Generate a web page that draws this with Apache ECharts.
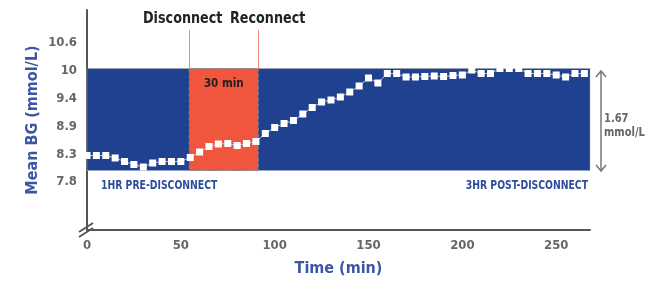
<!DOCTYPE html>
<html>
<head>
<meta charset="utf-8">
<script src="https://cdn.jsdelivr.net/npm/echarts@6/dist/echarts.min.js"></script>
<style>
  html, body { margin: 0; padding: 0; background: #fff; }
  #chart { width: 651px; height: 282px; }
</style>
</head>
<body>
<div id="chart"></div>
<script>
// time after start (min), 5-min samples
const times = [0, 5, 10, 15, 20, 25, 30, 35, 40, 45, 50, 55, 60, 65, 70, 75, 80, 85,
  90, 95, 100, 105, 110, 115, 120, 125, 130, 135, 140, 145, 150, 155, 160, 165, 170,
  175, 180, 185, 190, 195, 200, 205, 210, 215, 220, 225, 230, 235, 240, 245, 250,
  255, 260, 265];
// mean BG, mmol/L
const meanBG = [8.31, 8.31, 8.31, 8.26, 8.19, 8.13, 8.08, 8.16, 8.19, 8.19, 8.19, 8.27,
  8.38, 8.49, 8.54, 8.55, 8.51, 8.55, 8.59, 8.75, 8.87, 8.95, 9.01, 9.14, 9.27, 9.38,
  9.42, 9.48, 9.58, 9.70, 9.86, 9.76, 9.95, 9.95, 9.88, 9.88, 9.89, 9.90, 9.89, 9.91,
  9.92, 10.02, 9.95, 9.95, 10.05, 10.05, 10.05, 9.95, 9.95, 9.95, 9.92, 9.88, 9.95, 9.95];

const yTickValues = [7.78, 8.33, 8.89, 9.44, 10.0, 10.56];
const yTickLabels = ['7.8', '8.3', '8.9', '9.4', '10', '10.6'];
const xTickValues = [0, 50, 100, 150, 200, 250];

const bandRange = [8.01, 10.05];      // target band shown behind the curve
const disconnectAt = 54.5;
const reconnectAt = 91.2;
const markerTop = 10.82;

const FONT = "'Liberation Sans Narrow', 'DejaVu Sans Condensed', sans-serif";
const BLUE = '#1f4190';
const RED = '#f0553e';
const GREY = '#666666';
const NARROW = 0.86;

const chart = echarts.init(document.getElementById('chart'));

const pairs = times.map((t, i) => [t, meanBG[i]]);

const option = {
  backgroundColor: '#ffffff',
  animation: false,
  grid: { left: 87, right: 61, top: 10, bottom: 50 },
  xAxis: {
    type: 'value',
    min: 0,
    max: 268,
    name: 'Time (min)',
    nameLocation: 'middle',
    nameGap: 31,
    nameTextStyle: { color: '#3c56a5', fontSize: 16, fontWeight: 'bold', fontFamily: FONT },
    axisLine: { lineStyle: { color: '#555', width: 2 } },
    axisTick: { show: false },
    splitLine: { show: false },
    axisLabel: {
      customValues: xTickValues,
      color: GREY, fontSize: 13, fontWeight: 'bold', fontFamily: FONT, margin: 9
    }
  },
  yAxis: {
    type: 'value',
    min: 6.82,
    max: 11.22,
    name: 'Mean BG (mmol/L)',
    nameLocation: 'middle',
    nameRotate: 90,
    nameGap: 46,
    nameMoveOverlap: false,
    nameTextStyle: { color: '#3c56a5', fontSize: 16, fontWeight: 'bold', fontFamily: FONT },
    axisLine: { show: true, lineStyle: { color: '#555', width: 2 } },
    axisTick: { show: false },
    splitLine: { show: false },
    axisLabel: {
      customValues: yTickValues,
      formatter: v => {
        const i = yTickValues.findIndex(t => Math.abs(t - v) < 0.01);
        return i >= 0 ? yTickLabels[i] : '';
      },
      color: GREY, fontSize: 13, fontWeight: 'bold', fontFamily: FONT, margin: 10
    }
  },
  series: [
    {
      type: 'line',
      z: 1,
      data: [],
      markArea: {
        silent: true,
        data: [
          [
            { xAxis: 0, yAxis: bandRange[0], itemStyle: { color: BLUE, borderColor: '#9aa3b8', borderWidth: 1, borderType: 'dotted' } },
            { xAxis: 268, yAxis: bandRange[1] }
          ],
          [
            {
              xAxis: disconnectAt, yAxis: bandRange[0],
              itemStyle: { color: RED, borderColor: '#888', borderWidth: 1, borderType: 'dashed' },
              label: {
                show: true, position: 'insideTop', distance: 10, formatter: '30 min',
                color: '#222', fontSize: 11.5, fontWeight: 'bold', fontFamily: FONT
              }
            },
            { xAxis: reconnectAt, yAxis: bandRange[1] }
          ]
        ]
      },
      markLine: {
        silent: true,
        symbol: 'none',
        label: { show: false },
        lineStyle: { color: '#f08a7a', width: 1, type: 'solid' },
        data: [
          [{ coord: [disconnectAt, bandRange[1]] }, { coord: [disconnectAt, markerTop] }],
          [{ coord: [reconnectAt, bandRange[1]] }, { coord: [reconnectAt, markerTop] }]
        ]
      }
    },
    {
      type: 'line',
      z: 5,
      data: pairs,
      symbol: 'rect',
      symbolSize: 7,
      showAllSymbol: true,
      lineStyle: { color: '#b9c4e2', width: 1 },
      itemStyle: { color: '#ffffff', borderWidth: 0 }
    }
  ],
  graphic: [
    {
      type: 'text', x: 143, y: 10, scaleX: 0.86,
      style: { text: 'Disconnect', fill: '#222', font: `bold 16.5px ${FONT}` }
    },
    {
      type: 'text', x: 230, y: 10, scaleX: 0.86,
      style: { text: 'Reconnect', fill: '#222', font: `bold 16.5px ${FONT}` }
    },
    {
      type: 'text', x: 101, y: 180, scaleX: NARROW,
      style: { text: '1HR PRE-DISCONNECT', fill: '#2d4c9c', font: `bold 12px ${FONT}` }
    },
    {
      type: 'text', x: 588, y: 180, scaleX: NARROW,
      style: { text: '3HR POST-DISCONNECT', fill: '#2d4c9c', font: `bold 12px ${FONT}`, align: 'right' }
    },
    {
      type: 'text', x: 604, y: 112, scaleX: 0.85,
      style: { text: '1.67\nmmol/L', fill: GREY, font: `bold 13px ${FONT}`, lineHeight: 14 }
    },
    // double-headed range arrow
    { type: 'line', shape: { x1: 601, y1: 71, x2: 601, y2: 171 }, style: { stroke: '#777', lineWidth: 1.5 } },
    { type: 'polyline', shape: { points: [[596, 77], [601, 71], [606, 77]] }, style: { stroke: '#777', lineWidth: 1.5, fill: null } },
    { type: 'polyline', shape: { points: [[596, 165], [601, 171], [606, 165]] }, style: { stroke: '#777', lineWidth: 1.5, fill: null } },
    // axis break mark
    { type: 'line', shape: { x1: 79, y1: 237, x2: 93, y2: 228 }, style: { stroke: '#555', lineWidth: 2 } },
    { type: 'line', shape: { x1: 79, y1: 232, x2: 93, y2: 223 }, style: { stroke: '#555', lineWidth: 2 } }
  ]
};

chart.setOption(option);
</script>
</body>
</html>
